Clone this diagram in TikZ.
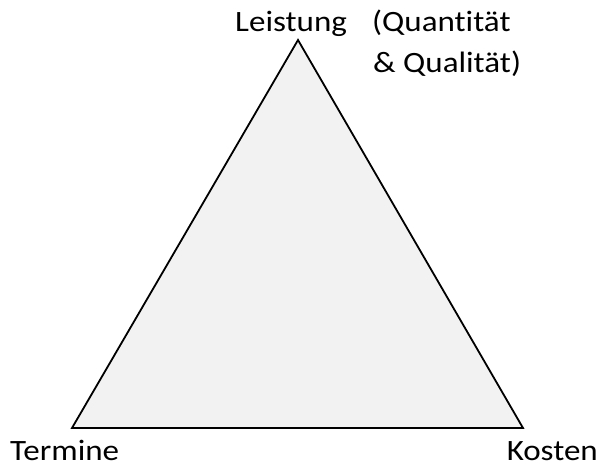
\documentclass[tikz,border=0pt]{standalone}
\usepackage{fontspec}
\setmainfont{Carlito}[FakeStretch=1.12,Ligatures=NoCommon]
\begin{document}
\begin{tikzpicture}[x=1pt,y=-1pt,
  lbl/.style={inner sep=0pt,font=\fontsize{29.5}{35}\selectfont}]
\useasboundingbox (0,0) rectangle (603,465);
\coordinate (T) at (298,40);
\coordinate (L) at (72,428);
\coordinate (R) at (523,428);
\filldraw[fill={rgb,255:red,242;green,242;blue,242},draw=black,line width=1.8pt,line join=miter] (T) -- (L) -- (R) -- cycle;
\node[lbl,anchor=base west] (lei) at (235,32) {Leistung};
\node[lbl,anchor=base west] (qua) at (372,32) {(Quantität};
\node[lbl,anchor=base west] (qual) at (373,73) {\& Qualität)};
\node[lbl,anchor=base west] (ter) at (10,460) {Termine};
\node[lbl,anchor=base east] (kos) at (598,460) {Kosten};
\end{tikzpicture}
\end{document}
